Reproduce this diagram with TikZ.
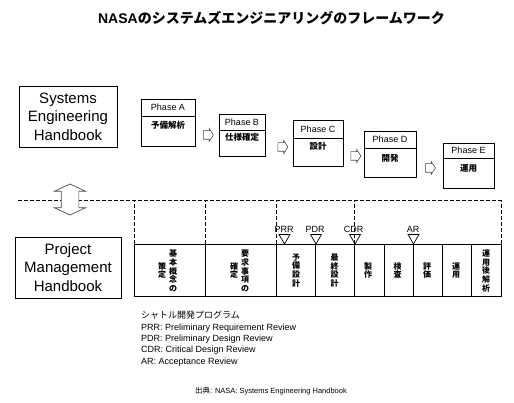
\documentclass[tikz,border=0pt]{standalone}
\usepackage{fontspec}
\setmainfont{Liberation Sans}
\newfontfamily\cjk{Noto Sans CJK JP}
\usetikzlibrary{shapes.arrows,shapes.geometric}
\begin{document}
\begin{tikzpicture}[x=1pt,y=-1pt,
  bigbox/.style={draw, line width=0.8pt, outer sep=0, inner sep=0, align=center,
    font=\fontsize{15}{18.5}\selectfont},
  hdr/.style={draw, line width=0.8pt, outer sep=0, inner sep=0, font=\fontsize{9}{10}\selectfont},
  bdy/.style={draw, line width=0.8pt, outer sep=0, inner sep=0},
  jpt/.style={inner sep=0, font=\cjk\bfseries\fontsize{8.5}{9}\selectfont},
  rarrow/.style={single arrow, draw=gray!60!black, fill=white, line width=0.6pt,
    minimum height=10, inner xsep=0, inner ysep=4, single arrow head extend=2.2,
    single arrow tip angle=115},
  cell/.style={draw, line width=0.8pt, outer sep=0, inner sep=0, minimum height=52},
  vt/.style={inner sep=0, align=center, font=\cjk\bfseries\fontsize{8}{8.8}\selectfont},
  tri/.style={regular polygon, regular polygon sides=3, shape border rotate=180,
    draw, line width=0.7pt, inner sep=0, minimum size=12.7},
  rev/.style={inner sep=0, anchor=base, font=\fontsize{9}{10}\selectfont},
  dsh/.style={dash pattern=on 4pt off 2pt, line width=0.7pt}
]
\useasboundingbox (0,0) rectangle (514,403);

% title
\node[font=\bfseries\fontsize{14}{16}\selectfont] (title) at (271.5,18)
  {NASA{\cjk\bfseries のシステムズエンジニアリングのフレームワーク}};

% handbooks
\node[bigbox, minimum width=98, minimum height=61] (seh) at (68,116.5)
  {Systems\\Engineering\\Handbook};
\node[bigbox, minimum width=106, minimum height=61] (pmh) at (68,267.5)
  {Project\\Management\\Handbook};

% phases
\node[hdr, minimum width=54, minimum height=17, anchor=north west] (hA) at (141,99) {Phase A};
\node[bdy, minimum width=54, minimum height=30, anchor=north] (bA) at (hA.south) {};
\node[jpt] (tA) at (168,125) {予備解析};

\node[hdr, minimum width=46, minimum height=16, anchor=north west] (hB) at (219,114) {Phase B};
\node[bdy, minimum width=46, minimum height=26, anchor=north] (bB) at (hB.south) {};
\node[jpt] (tB) at (242,137) {仕様確定};

\node[hdr, minimum width=50, minimum height=18, anchor=north west] (hC) at (293,120) {Phase C};
\node[bdy, minimum width=50, minimum height=28, anchor=north] (bC) at (hC.south) {};
\node[jpt] (tC) at (318,146.5) {設計};

\node[hdr, minimum width=52, minimum height=17, anchor=north west] (hD) at (364,131) {Phase D};
\node[bdy, minimum width=52, minimum height=29, anchor=north] (bD) at (hD.south) {};
\node[jpt] (tD) at (390,158) {開発};

\node[hdr, minimum width=51, minimum height=15, anchor=north west] (hE) at (443,143) {Phase E};
\node[bdy, minimum width=51, minimum height=30, anchor=north] (bE) at (hE.south) {};
\node[jpt] (tE) at (468.5,168) {運用};

% arrows between phases
\node[rarrow] (aAB) at (207,135) {};
\node[rarrow] (aBC) at (281.5,147) {};
\node[rarrow] (aCD) at (354.5,156) {};
\node[rarrow] (aDE) at (429,168) {};

% dashed line
\coordinate (dL) at (18,200);
\coordinate (dR) at (502,200);
\draw[dsh] (dL) -- (dR);

% double arrow
\node[double arrow, draw=gray!60!black, fill=white, line width=0.7pt, rotate=90,
  minimum height=31, inner xsep=0, inner ysep=8.5, double arrow head extend=6.5,
  double arrow tip angle=130] (dbl) at (70,199.5) {};

% table cells
\node[cell, minimum width=71] (c1) at (169.5,270) {};
\node[cell, minimum width=71] (c2) at (240.5,270) {};
\node[cell, minimum width=39] (c3) at (295.5,270) {};
\node[cell, minimum width=39] (c4) at (334.5,270) {};
\node[cell, minimum width=30] (c5) at (369,270) {};
\node[cell, minimum width=29] (c6) at (398.5,270) {};
\node[cell, minimum width=29] (c7) at (427.5,270) {};
\node[cell, minimum width=29] (c8) at (456.5,270) {};
\node[cell, minimum width=30] (c9) at (486,270) {};

% dashed verticals
\draw[dsh] (c1.north west) -- (c1.north west |- dL);
\draw[dsh] (c2.north west) -- (c2.north west |- dL);
\draw[dsh] (c3.north west) -- (c3.north west |- dL);
\draw[dsh] (c5.north west) -- (c5.north west |- dL);
\draw[dsh] (c9.north east) -- (c9.north east |- dL);

% vertical texts
\node[vt] (v1a) at (173,271) {基\\本\\概\\念\\の};
\node[vt] (v1b) at (162,270.5) {策\\定};
\node[vt] (v2a) at (245,271) {要\\求\\事\\項\\の};
\node[vt] (v2b) at (234,270.5) {確\\定};
\node[vt] (v3) at (296,270.5) {予\\備\\設\\計};
\node[vt] (v4) at (334.5,270.5) {最\\終\\設\\計};
\node[vt] (v5) at (368,270.5) {製\\作};
\node[vt] (v6) at (397.5,270.5) {検\\査};
\node[vt] (v7) at (427,270.5) {評\\価};
\node[vt] (v8) at (456,270.5) {運\\用};
\node[vt] (v9) at (486,271) {運\\用\\後\\解\\析};

% review triangles
\node[tri] (tPRR) at (284.5,237.65) {};
\node[tri] (tPDR) at (316,237.65) {};
\node[tri] (tCDR) at (355,237.65) {};
\node[tri] (tAR) at (413.5,237.65) {};
\node[rev] (lPRR) at (284,233) {PRR};
\node[rev] (lPDR) at (315,233) {PDR};
\node[rev] (lCDR) at (353.5,233) {CDR};
\node[rev] (lAR) at (413,233) {AR};

% legend
\node[inner sep=0, anchor=base west, align=left, font=\fontsize{9}{11.3}\selectfont] (leg) at (141,364)
  {{\cjk シャトル開発プログラム}\\PRR: Preliminary Requirement Review\\PDR: Preliminary Design Review\\CDR: Critical Design Review\\AR: Acceptance Review};

% source
\node[inner sep=0, font=\fontsize{7.5}{9}\selectfont] (src) at (271,391)
  {{\cjk 出典}: NASA: Systems Engineering Handbook};
\end{tikzpicture}
\end{document}
